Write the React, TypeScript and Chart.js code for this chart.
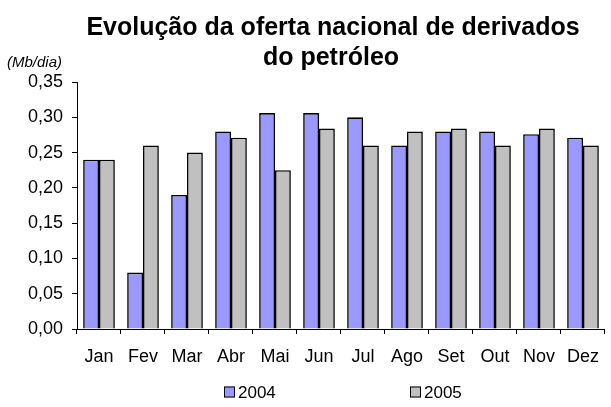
import React, { useEffect, useRef } from 'react';
import { Chart, registerables } from 'chart.js';

Chart.register(...registerables);

const months = ['Jan', 'Fev', 'Mar', 'Abr', 'Mai', 'Jun', 'Jul', 'Ago', 'Set', 'Out', 'Nov', 'Dez'];
const values2004 = [0.24, 0.08, 0.19, 0.28, 0.306, 0.306, 0.3, 0.26, 0.28, 0.28, 0.276, 0.271];
const values2005 = [0.24, 0.26, 0.25, 0.271, 0.225, 0.284, 0.26, 0.28, 0.284, 0.26, 0.284, 0.26];
const seriesLabels = ['2004', '2005'];
const titleLines = ['Evolução da oferta nacional de derivados', 'do petróleo'];
const unitLabel = '(Mb/dia)';
const yMin = 0;
const yMax = 0.35;
const yStep = 0.05;

const FONT = '"Liberation Sans", Arial, sans-serif';

const decorPlugin = {
  id: 'decor',
  afterDraw(chart: any) {
    const ctx = chart.ctx;
    ctx.save();
    ctx.fillStyle = '#000';
    ctx.textAlign = 'center';
    ctx.textBaseline = 'middle';
    ctx.font = `bold 25px ${FONT}`;
    ctx.fillText(titleLines[0], 333, 28);
    ctx.fillText(titleLines[1], 331, 58);
    ctx.textAlign = 'left';
    ctx.font = `italic 15px ${FONT}`;
    ctx.fillText(unitLabel, 7, 63);
    // legend
    const xs = [224, 410];
    ctx.font = `17px ${FONT}`;
    chart.data.datasets.forEach((ds: any, i: number) => {
      const x = xs[i];
      const y = 392;
      ctx.fillStyle = ds.backgroundColor;
      ctx.fillRect(x, y - 5.5, 11, 11);
      ctx.strokeStyle = '#000';
      ctx.lineWidth = 1;
      ctx.strokeRect(x + 0.5, y - 5, 10, 10);
      ctx.fillStyle = '#000';
      ctx.fillText(ds.label, x + 14, y + 1);
    });
    ctx.restore();
  },
};

export default function App() {
  const ref = useRef<HTMLCanvasElement>(null);
  useEffect(() => {
    document.body.style.margin = '0';
    const chart = new Chart(ref.current!, {
      type: 'bar',
      data: {
        labels: months,
        datasets: [
          {
            label: seriesLabels[0],
            data: values2004,
            backgroundColor: '#9999FF',
            borderColor: '#000000',
            borderWidth: 1.6,
            barPercentage: 1,
            categoryPercentage: 0.72,
          },
          {
            label: seriesLabels[1],
            data: values2005,
            backgroundColor: '#C0C0C0',
            borderColor: '#000000',
            borderWidth: 1.6,
            barPercentage: 1,
            categoryPercentage: 0.72,
          },
        ],
      },
      options: {
        animation: false,
        responsive: false,
        maintainAspectRatio: false,
        layout: { padding: { top: 82, right: 0, left: 0, bottom: 0 } },
        plugins: {
          legend: { display: false },
          title: { display: false },
          tooltip: { enabled: false },
        },
        scales: {
          x: {
            grid: {
              offset: true,
              drawOnChartArea: false,
              drawTicks: true,
              tickLength: 5,
              color: '#000',
            },
            border: { color: '#000', width: 1 },
            ticks: {
              color: '#000',
              font: { family: FONT, size: 18 },
              padding: 12,
              maxRotation: 0,
              autoSkip: false,
            },
            afterFit(scale: any) {
              scale.height = 78;
            },
          },
          y: {
            min: yMin,
            max: yMax,
            grid: {
              drawOnChartArea: false,
              drawTicks: true,
              tickLength: 5,
              color: '#000',
            },
            border: { color: '#000', width: 1 },
            ticks: {
              stepSize: yStep,
              color: '#000',
              font: { family: FONT, size: 18 },
              padding: 9,
              callback: (v: any) => Number(v).toFixed(2).replace('.', ','),
            },
            afterFit(scale: any) {
              scale.width = 77;
            },
          },
        },
      },
      plugins: [decorPlugin],
    });
    return () => chart.destroy();
  }, []);
  return (
    <div style={{ position: 'absolute', left: 0, top: 0, width: 611, height: 407, background: '#fff' }}>
      <canvas ref={ref} width={611} height={407} />
    </div>
  );
}
